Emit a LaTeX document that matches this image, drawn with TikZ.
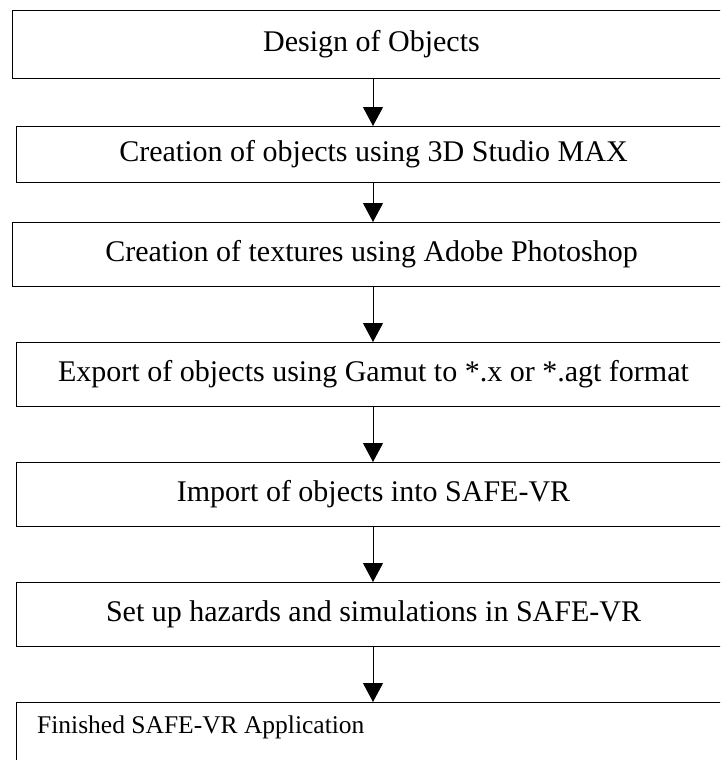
\documentclass[tikz,border=0pt]{standalone}
\usepackage{fontspec}
\setmainfont{Liberation Serif}
\usetikzlibrary{arrows.meta}
\begin{document}
\begin{tikzpicture}[x=1pt,y=-1pt,
  box/.style={draw=black, line width=1pt, rectangle, inner sep=0pt, anchor=north west,
    font=\fontsize{30}{36}\selectfont},
  arr/.style={draw=black, line width=1pt, -{Triangle[length=19pt,width=20pt]}},
  small/.style={font=\fontsize{25.5}{30}\selectfont, inner sep=0pt, anchor=base west}
]
\useasboundingbox (0,0) rectangle (720,760);
\clip (0,0) rectangle (720,760);
\node[box, minimum width=718pt, minimum height=68pt] (b1) at (12,10) {Design of Objects};
\node[box, minimum width=714pt, minimum height=56pt] (b2) at (16,126) {Creation of objects using 3D Studio MAX};
\node[box, minimum width=718pt, minimum height=64pt] (b3) at (12,222) {Creation of textures using Adobe Photoshop};
\node[box, minimum width=714pt, minimum height=64pt] (b4) at (16,342) {Export of objects using Gamut to *.x or *.agt format};
\node[box, minimum width=714pt, minimum height=64pt] (b5) at (16,462) {Import of objects into SAFE-VR};
\node[box, minimum width=714pt, minimum height=64pt] (b6) at (16,582) {Set up hazards and simulations in SAFE-VR};
\node[box, minimum width=714pt, minimum height=88pt] (b7) at (16,702) {};
\node[small] (t7) at (37,733) {Finished SAFE-VR Application};
\coordinate (ax) at (373,0);
\draw[arr] (b1.south -| ax) -- (b2.north -| ax);
\draw[arr] (b2.south -| ax) -- (b3.north -| ax);
\draw[arr] (b3.south -| ax) -- (b4.north -| ax);
\draw[arr] (b4.south -| ax) -- (b5.north -| ax);
\draw[arr] (b5.south -| ax) -- (b6.north -| ax);
\draw[arr] (b6.south -| ax) -- (b7.north -| ax);
\end{tikzpicture}
\end{document}
